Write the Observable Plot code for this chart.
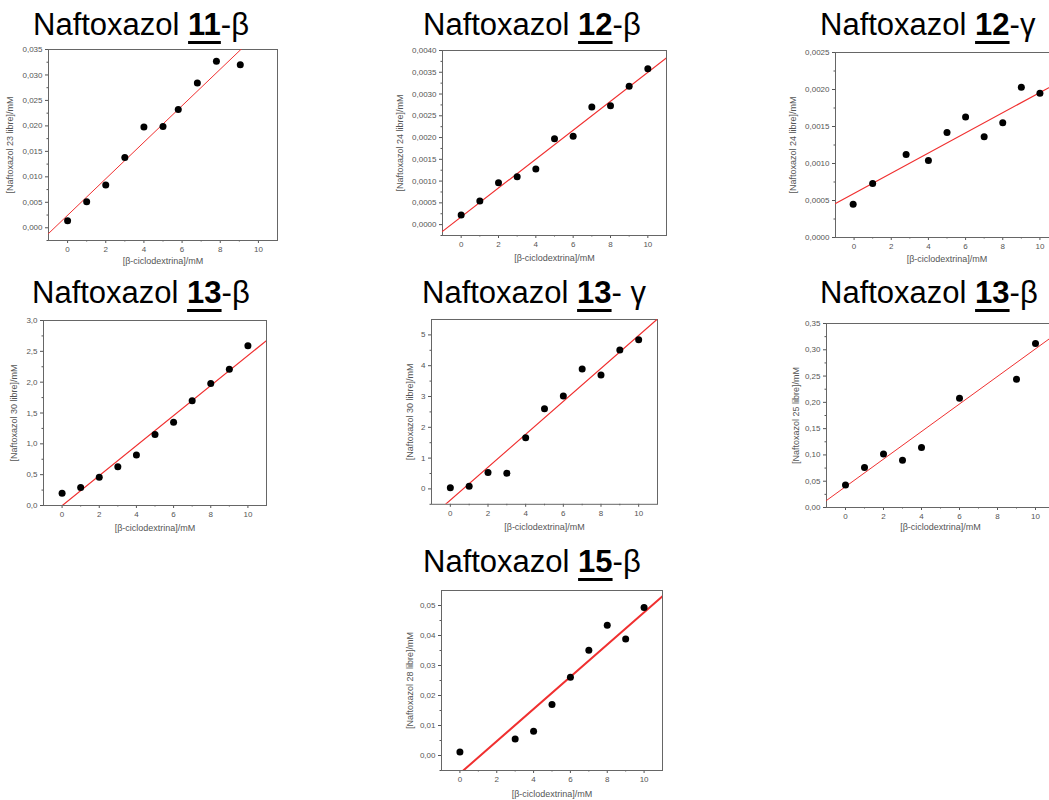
<!DOCTYPE html>
<html><head><meta charset="utf-8">
<script src="https://cdn.jsdelivr.net/npm/d3@7"></script>
<script src="https://cdn.jsdelivr.net/npm/@observablehq/plot@0.6"></script>
<style>
html,body{margin:0;padding:0;background:#fff;overflow:hidden}
#root{position:relative;width:1049px;height:800px;overflow:hidden;font-family:"Liberation Sans",Arial,sans-serif}
.title{position:absolute;font-size:31px;line-height:31px;color:#000;white-space:nowrap}
.title b{text-decoration:underline;text-decoration-thickness:3px;text-underline-offset:6px}
.panel{position:absolute}
</style></head><body><div id="root"></div>
<script>
// ---- data ----
const xLabel = "[β-ciclodextrina]/mM";
const titlePrefix = "Naftoxazol ";
const titleNumbers = ["11", "12", "12", "13", "13", "13", "15"];
const titleSuffixes = ["-β", "-β", "-γ", "-β", "- γ", "-β", "-β"];
const yLabels = [
  "[Naftoxazol 23 libre]/mM", "[Naftoxazol 24 libre]/mM", "[Naftoxazol 24 libre]/mM",
  "[Naftoxazol 30 libre]/mM", "[Naftoxazol 30 libre]/mM", "[Naftoxazol 25 libre]/mM",
  "[Naftoxazol 28 libre]/mM"
];
const xTicks = [0, 2, 4, 6, 8, 10];
const xMinorTicks = [1, 3, 5, 7, 9];
const xDomain = [-1, 11];

const p1X = [0, 1, 2, 3, 4, 5, 5.8, 6.8, 7.8, 9.05];
const p1Y = [0.0014, 0.0051, 0.0084, 0.0138, 0.0198, 0.0199, 0.0232, 0.0284, 0.0327, 0.0320];
const p1Fit = [0.00245, 0.003585];
const p1YTicks = [0, 0.005, 0.010, 0.015, 0.020, 0.025, 0.030, 0.035];

const p2X = [0, 1, 2, 3, 4, 5, 6, 7, 8, 9, 10];
const p2Y = [0.00022, 0.00054, 0.00096, 0.00110, 0.00128, 0.00197, 0.00203, 0.00270, 0.00273, 0.00318, 0.00358];
const p2Fit = [0.000177, 0.000332];
const p2YTicks = [0, 0.0005, 0.0010, 0.0015, 0.0020, 0.0025, 0.0030, 0.0035, 0.0040];

const p3X = [-0.05, 1, 2.8, 4, 5, 6, 7, 8, 9, 10];
const p3Y = [0.00045, 0.00073, 0.00112, 0.00104, 0.00142, 0.00163, 0.00136, 0.00155, 0.00203, 0.00195];
const p3Fit = [0.000595, 0.0001364];
const p3YTicks = [0, 0.0005, 0.0010, 0.0015, 0.0020, 0.0025];

const p4X = [0, 1, 2, 3, 4, 5, 6, 7, 8, 9, 10];
const p4Y = [0.20, 0.29, 0.46, 0.63, 0.82, 1.15, 1.35, 1.70, 1.98, 2.21, 2.59];
const p4Fit = [-0.003, 0.2435];
const p4YTicks = [0, 0.5, 1.0, 1.5, 2.0, 2.5, 3.0];

const p5X = [0, 1, 2, 3, 4, 5, 6, 7, 8, 9, 10];
const p5Y = [0.04, 0.09, 0.53, 0.51, 1.66, 2.60, 3.02, 3.89, 3.70, 4.51, 4.84];
const p5Fit = [-0.364, 0.5347];
const p5YTicks = [0, 1, 2, 3, 4, 5];

const p6X = [0, 1, 2, 3, 4, 6, 9, 10];
const p6Y = [0.043, 0.076, 0.102, 0.090, 0.114, 0.208, 0.244, 0.312];
const p6Fit = [0.0396, 0.02622];
const p6YTicks = [0, 0.05, 0.10, 0.15, 0.20, 0.25, 0.30, 0.35];

const p7X = [0, 3, 4, 5, 6, 7, 8, 9, 10];
const p7Y = [0.0012, 0.0055, 0.0081, 0.0170, 0.0261, 0.0351, 0.0434, 0.0388, 0.0493];
const p7Fit = [-0.00598, 0.00537];
const p7YTicks = [0, 0.01, 0.02, 0.03, 0.04, 0.05];

// ---- layout (frame box in page px) ----
const layout = [
  {L: 48,  R: 277,  T: 49,    B: 240,   yDom: [-0.0025, 0.035], dec: 3, title: [33, 35],  ylDx: -38, xlDy: 23, lw: 1},
  {L: 442, R: 666,  T: 50,    B: 235,   yDom: [-0.00025, 0.004], dec: 4, title: [423, 35], ylDx: -42, xlDy: 25, lw: 1.2},
  {L: 835, R: 1058, T: 52,    B: 237,   yDom: [0, 0.0025], dec: 4, title: [820, 35], ylDx: -42, xlDy: 24, lw: 1.2},
  {L: 43,  R: 266,  T: 320,   B: 505,   yDom: [0, 3], dec: 1, title: [32, 303], ylDx: -29, xlDy: 25, lw: 1.2},
  {L: 431, R: 657,  T: 318.6, B: 503.4, yDom: [-0.5, 5.5], dec: 0, title: [422, 303], ylDx: -21, xlDy: 26, lw: 1.2},
  {L: 826, R: 1054, T: 323,   B: 507,   yDom: [0, 0.35], dec: 2, title: [820, 303], ylDx: -30, xlDy: 22, lw: 1},
  {L: 441, R: 662,  T: 590,   B: 770,   yDom: [-0.005, 0.055], dec: 2, title: [423, 572], ylDx: -31, xlDy: 26, lw: 2}
];

const series = [
  [p1X, p1Y, p1Fit, p1YTicks], [p2X, p2Y, p2Fit, p2YTicks], [p3X, p3Y, p3Fit, p3YTicks],
  [p4X, p4Y, p4Fit, p4YTicks], [p5X, p5Y, p5Fit, p5YTicks], [p6X, p6Y, p6Fit, p6YTicks],
  [p7X, p7Y, p7Fit, p7YTicks]
];

const root = document.getElementById("root");

series.forEach(([xs, ys, fit, yTicks], i) => {
  const c = layout[i];
  const mL = 56, mR = 8, mT = 8, mB = 36;
  const data = xs.map((x, k) => ({x, y: ys[k]}));
  const fitLine = xDomain.map(x => ({x, y: fit[0] + fit[1] * x}));
  const step = yTicks[1] - yTicks[0];
  const yMinor = yTicks.slice(0, -1).map(t => t + step / 2);
  if (c.yDom[0] < 0 && c.yDom[0] <= -step / 2 + 1e-12) yMinor.unshift(-step / 2);
  const fmt = d => d.toFixed(c.dec).replace(".", ",");
  const svg = Plot.plot({
    width: c.R - c.L + mL + mR,
    height: c.B - c.T + mT + mB,
    marginLeft: mL, marginRight: mR, marginTop: mT, marginBottom: mB,
    style: {fontFamily: "'Liberation Sans', Arial, sans-serif", fontSize: "8px", background: "transparent", overflow: "visible"},
    x: {domain: xDomain},
    y: {domain: c.yDom},
    marks: [
      Plot.axisX(xTicks, {tickSize: 3, tickPadding: 3, tickFormat: d => String(d), color: "#555", label: null}),
      Plot.axisX(xMinorTicks, {tickSize: 1.5, tickFormat: () => "", color: "#555", label: null}),
      Plot.axisY(yTicks, {tickSize: 3, tickPadding: 3, tickFormat: fmt, color: "#555", label: null}),
      Plot.axisY(yMinor, {tickSize: 1.5, tickFormat: () => "", color: "#555", label: null}),
      Plot.frame({stroke: "#666", strokeWidth: 1}),
      Plot.text([xLabel], {text: d => d, frameAnchor: "bottom", textAnchor: "middle", dy: c.xlDy, fontSize: 9, fill: "#555"}),
      Plot.text([yLabels[i]], {text: d => d, frameAnchor: "left", textAnchor: "middle", rotate: -90, dx: c.ylDx, fontSize: 9, fill: "#555"}),
      Plot.line(fitLine, {x: "x", y: "y", stroke: "#f03030", strokeWidth: c.lw, clip: true}),
      Plot.dot(data, {x: "x", y: "y", r: 3.5, fill: "#000", stroke: "none"})
    ]
  });
  svg.classList.add("panel");
  svg.style.left = (c.L - mL) + "px";
  svg.style.top = (c.T - mT) + "px";
  root.appendChild(svg);

  const t = document.createElement("div");
  t.className = "title";
  t.style.left = c.title[0] + "px";
  t.style.top = (c.title[1] - 26.2) + "px";
  t.append(titlePrefix);
  const b = document.createElement("b");
  b.textContent = titleNumbers[i];
  t.append(b);
  t.append(titleSuffixes[i]);
  root.appendChild(t);
});
</script></body></html>
